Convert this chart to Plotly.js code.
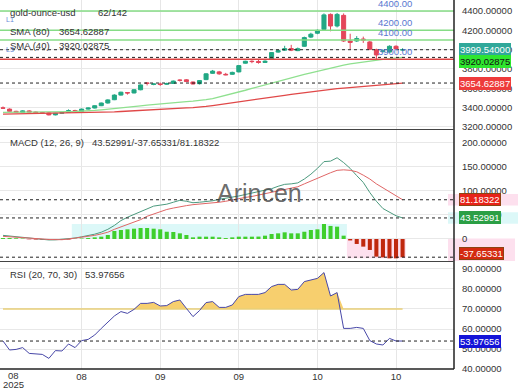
<!DOCTYPE html>
<html><head><meta charset="utf-8">
<script src="https://cdn.plot.ly/plotly-3.0.1.min.js"></script>
<style>html,body{margin:0;padding:0;background:#fff}#chart{width:520px;height:390px}</style>
</head><body><div id="chart"></div>
<script>
// ---- data (trading-day index 0..61, 62 of 142 bars shown) ----
const symbol = "gold-ounce-usd";
const barsInfo = "62/142";
const open  = [3397,3385,3362,3352,3366,3355,3348,3345,3325,3342,3350,3370,3362,3385,3396,3420,3448,3482,3530,3556,3552,3585,3655,3640,3645,3642,3650,3685,3688,3665,3648,3690,3755,3770,3745,3745,3770,3860,3880,3878,3868,3905,3975,3995,4012,3990,4035,4130,4170,4210,4365,4245,4355,4090,4090,4110,4080,4000,3980,3975,4035,3996];
const high  = [3412,3392,3368,3372,3374,3360,3356,3350,3346,3356,3382,3378,3390,3402,3424,3452,3486,3538,3565,3560,3592,3640,3660,3650,3660,3658,3680,3692,3695,3670,3684,3755,3790,3780,3760,3772,3840,3885,3890,3895,3890,3975,3998,4040,4050,4022,4135,4175,4210,4375,4375,4380,4375,4165,4140,4135,4090,4010,4000,4045,4045,4015];
const low   = [3392,3358,3348,3348,3350,3342,3338,3320,3320,3336,3346,3355,3358,3380,3392,3416,3442,3478,3525,3535,3548,3580,3630,3632,3625,3635,3645,3670,3665,3640,3640,3685,3750,3740,3735,3740,3765,3855,3860,3855,3862,3900,3968,3990,3985,3985,4030,4120,4160,4200,4190,4230,4080,4005,4080,4070,3995,3900,3970,3970,4000,3985];
const close = [3395,3362,3352,3366,3355,3348,3345,3325,3342,3350,3370,3362,3385,3396,3420,3448,3480,3530,3560,3552,3585,3635,3652,3645,3640,3650,3675,3683,3670,3645,3680,3750,3778,3750,3740,3765,3835,3880,3877,3868,3880,3970,3990,4010,3995,4010,4125,4160,4200,4360,4245,4365,4090,4075,4115,4100,4005,3945,3988,4035,4008,3999.54];
const sma40 = [3352,3352,3353,3353,3354,3354,3355,3355,3356,3357,3358,3360,3362,3366,3371,3377,3383,3390,3397,3404,3411,3419,3427,3434,3441,3447,3453,3458,3463,3467,3472,3482,3494,3510,3526,3543,3561,3580,3599,3618,3637,3656,3675,3693,3710,3727,3744,3761,3778,3795,3812,3827,3840,3852,3863,3873,3882,3892,3900,3907,3914,3920.02875];
const sma80 = [3333,3334,3335,3336,3337,3338,3339,3340,3341,3342,3343,3344,3346,3348,3350,3352,3354,3357,3360,3363,3366,3370,3374,3378,3382,3386,3390,3394,3397,3401,3405,3413,3422,3431,3440,3449,3458,3467,3477,3487,3497,3507,3517,3528,3538,3547,3556,3565,3573,3582,3590,3596,3602,3607,3612,3617,3622,3628,3634,3641,3648,3654.62887];
const macd   = [7.5,6,4.5,3.5,2.5,1,-0.5,-2,-1.8,-1,0.5,2,4.5,7,10,14,20,28,38,45,51,57,62,68,70,72,76,80,78,75,76,77,79,82,84,87,89,92,95,98,101,104,109,113,114,116,124,134,146,160,161,168,158,146,131,117,96,78,63,55,48,43.52991];
const signal = [5.5,4.8,3.8,2.8,1.8,1,0,-1,-2,-1.5,0,1.5,3,5,7.5,10.5,14,20,25,30,35,40,47,52,57,61,64,67,69,71,72,73,74.5,76,78,81,83,86,88,91,93,96,99,102,105,108,114,120,125,131,137,142,143,142,139,132,124,114,106,97,89,81.18322];
const hist   = [2,2,1.5,1,-0.5,-1,-1.5,-2,-2,-1.5,-1,0.5,1,2,3.4,4.8,8.3,16.5,18.6,20,21.3,22.7,22.7,21.3,20,15,14.5,11.7,8.3,3.4,4.8,4.8,4.8,3.4,2,3.4,4.8,4.8,4.8,5,6.9,10.3,11.7,13.8,11.7,11.7,15,18.6,20,31,27,25.5,6.9,-3,-10.3,-15.8,-22.7,-36.5,-38,-40,-40,-37.65331];
const rsi    = [54,49.5,49.8,50.7,47.8,47.6,47.3,45.3,49.2,49,52.5,50.7,54.2,54.8,57,60.3,63.2,66.5,68.7,67.8,69.8,72.8,72.8,73.3,71.5,71.7,73.7,74.5,70.3,66.2,69.2,73.2,73.7,70.8,70.8,72,76.2,77.3,77.3,77.3,78.2,81.2,82.3,82.3,79.5,79.8,83.7,84.5,85.3,88.2,76.5,78.2,60.3,60.3,60.8,60.3,54.2,52.5,52,55.3,54,53.97656];
const rsiLevel = 70;
const priceLevels = [4400, 4200, 4100, 3900];
const levelColors = ["#86dc86", "#86dc86", "#86dc86", "#dd4444"];
const xTickIdx = [1.6, 12, 24, 36, 48, 60];
const xTickText = ["08", "08", "09", "09", "10", "10"];
const yearLabel = "2025";
const priceTicks = [3200, 3400, 3600, 3800, 4000, 4200, 4400];
const macdTicks = [0, 50, 100, 150, 200];
const macdTickText = ["0", "50.00000", "100.00000", "150.00000", "200.00000"];
const rsiTicks = [40, 50, 60, 70, 80, 90];

const idx = close.map((_, i) => i);
const last = a => a[a.length - 1];
const FONT = "Liberation Sans, Arial, sans-serif";
const W = 454, H = 369;
const px2x = p => p / W, px2y = p => 1 - p / H;

const traces = [
  {type: "candlestick", x: idx, open, high, low, close, xaxis: "x", yaxis: "y",
   increasing: {line: {color: "#22a884", width: 1}, fillcolor: "#22a884"},
   decreasing: {line: {color: "#e4465a", width: 1}, fillcolor: "#e4465a"},
   whiskerwidth: 0, hoverinfo: "skip"},
  {type: "scatter", mode: "lines", x: idx, y: sma40, yaxis: "y", line: {color: "#8fe08f", width: 1.3}},
  {type: "scatter", mode: "lines", x: idx, y: sma80, yaxis: "y", line: {color: "#e04848", width: 1.3}},
  {type: "bar", x: idx, y: hist, yaxis: "y2", width: 0.62,
   marker: {color: hist.map(v => v >= 0 ? "#3fcf2c" : "#c0280e")}},
  {type: "scatter", mode: "lines", x: idx, y: macd, yaxis: "y2", line: {color: "#4c9a7e", width: 1}},
  {type: "scatter", mode: "lines", x: idx, y: signal, yaxis: "y2", line: {color: "#e06666", width: 1}},
  {type: "scatter", mode: "lines", x: idx, y: idx.map(() => rsiLevel), yaxis: "y3", line: {color: "#e9cf77", width: 1.5}},
  {type: "scatter", mode: "lines", x: idx, y: rsi.map(v => Math.max(v, rsiLevel)), yaxis: "y3",
   line: {width: 0}, fill: "tonexty", fillcolor: "#f7cf6e"},
  {type: "scatter", mode: "lines", x: idx, y: rsi, yaxis: "y3", line: {color: "#4848a8", width: 1}}
];

const shapes = [];
// histogram sign-run shading
let s = 0;
for (let i = 1; i <= hist.length; i++) {
  if (i === hist.length || (hist[i] >= 0) !== (hist[s] >= 0)) {
    const seg = hist.slice(s, i);
    const pos = hist[s] >= 0;
    const ext = pos ? Math.max(...seg) : Math.min(...seg);
    shapes.push({type: "rect", xref: "x", yref: "y2", x0: s - 0.5, x1: i - 0.5, y0: 0, y1: ext,
      fillcolor: pos ? "#dcf8f8" : "#fde0ee", line: {width: 0}, layer: "below"});
    s = i;
  }
}
// halos beside the MACD value boxes
shapes.push({type: "rect", xref: "paper", yref: "y2", x0: px2x(448), x1: px2x(518), y0: last(signal) - 12, y1: last(signal) + 12, fillcolor: "#fde0ee", line: {width: 0}, layer: "below"});
shapes.push({type: "rect", xref: "paper", yref: "y2", x0: px2x(448), x1: px2x(518), y0: last(macd) - 12, y1: last(macd) + 12, fillcolor: "#dcf8f8", line: {width: 0}, layer: "below"});
shapes.push({type: "rect", xref: "paper", yref: "y2", x0: px2x(448), x1: px2x(515), y0: -45.5, y1: 1, fillcolor: "#fde0ee", line: {width: 0}, layer: "below"});

priceLevels.forEach((lv, k) => shapes.push({type: "line", xref: "paper", yref: "y", x0: 0, x1: 1, y0: lv, y1: lv,
  line: {color: levelColors[k], width: 1.5}}));
const dash = {color: "#222", width: 1, dash: "3px,3px"};
[[last(close), "y"], [last(sma40), "y"], [last(sma80), "y"],
 [last(signal), "y2"], [last(macd), "y2"], [last(hist), "y2"], [last(rsi), "y3"]].forEach(([v, ya]) =>
  shapes.push({type: "line", xref: "paper", yref: ya, x0: 0, x1: 1, y0: v, y1: v, line: dash}));
// panel frame
shapes.push({type: "line", xref: "paper", yref: "paper", x0: 1, x1: 1, y0: 0, y1: 1, line: {color: "#222", width: 1.5}});
shapes.push({type: "line", xref: "paper", yref: "paper", x0: 0, x1: 1, y0: 0, y1: 0, line: {color: "#222", width: 1.5}});
shapes.push({type: "line", xref: "paper", yref: "paper", x0: 0, x1: 1, y0: px2y(129.5), y1: px2y(129.5), line: {color: "#444", width: 1.2}});
shapes.push({type: "line", xref: "paper", yref: "paper", x0: 0, x1: 1, y0: px2y(261.5), y1: px2y(261.5), line: {color: "#444", width: 1.2}});

const tf = {family: FONT, size: 9.5, color: "#333"};
const ann = [];
const txt = (text, x, y, extra) => ann.push(Object.assign({text, xref: "paper", yref: "paper", x: px2x(x), y: px2y(y),
  xanchor: "left", yanchor: "middle", showarrow: false, font: tf}, extra || {}));
txt(symbol, 8, 12.7); txt(barsInfo, 96, 12.7);
txt("SMA (80)", 8, 31); txt(last(sma80).toFixed(5), 57, 31);
txt("SMA (40)", 8, 45.7); txt(last(sma40).toFixed(5), 57, 45.7);
txt("MACD (12, 26, 9)", 8, 142.5); txt(`${last(macd).toFixed(5)}/${last(hist).toFixed(5)}/${last(signal).toFixed(5)}`, 90, 142.5);
txt("RSI (20, 70, 30)", 8, 274); txt(last(rsi).toFixed(5), 83, 274);
txt("L1", 4, 20, {font: {family: FONT, size: 7, color: "#6a8ad8"}});
txt("L3", 4, 50, {font: {family: FONT, size: 7, color: "#6a8ad8"}});
txt("Arincen", 259, 193, {xanchor: "center", font: {family: FONT, size: 25, color: "rgba(70,70,70,0.8)"}});
// price level labels
priceLevels.forEach(lv => ann.push({text: lv.toFixed(2), xref: "paper", yref: "y", x: px2x(414), y: lv,
  xanchor: "right", yanchor: "bottom", yshift: 0, showarrow: false, font: {family: FONT, size: 9.5, color: "#5a78d0"}}));
// first x label with year, on two lines
ann.push({text: xTickText[0], xref: "x", yref: "paper", x: xTickIdx[0], y: px2y(375.5), yanchor: "middle",
  showarrow: false, font: tf});
ann.push({text: yearLabel, xref: "x", yref: "paper", x: xTickIdx[0], y: px2y(384), yanchor: "middle",
  showarrow: false, font: tf});
// value boxes on the right axis
const box = (v, ya, bg, fc, bc, ys) => ann.push({text: v.toFixed(5), xref: "paper", yref: ya, x: 1, y: v, xanchor: "left",
  yanchor: "middle", xshift: 5, yshift: ys || 0, showarrow: false, bgcolor: bg, bordercolor: bc || bg, borderwidth: 1, borderpad: 0,
  font: {family: FONT, size: 9.5, color: fc}});
box(last(close), "y", "#30a89a", "#fff");
box(last(sma40), "y", "#2ee62e", "#111", null, -4);
box(last(sma80), "y", "#ee3b3b", "#fff");
box(last(signal), "y2", "#e8231a", "#fff", "#8b4513");
box(last(macd), "y2", "#2b9f45", "#fff");
box(last(hist), "y2", "#d42a10", "#fff", "#8b4513", 4);
box(last(rsi), "y3", "#1414d8", "#fff");

const yCommon = {side: "right", showgrid: true, gridcolor: "#e8e8e8", zeroline: false, ticks: "", tickfont: tf, ticklabelstandoff: 7, fixedrange: true};
const layout = {
  width: 520, height: 390, margin: {l: 0, r: 66, t: 0, b: 21},
  paper_bgcolor: "#fff", plot_bgcolor: "#fff", showlegend: false,
  font: {family: FONT},
  boxgap: 0.35, boxgroupgap: 0.05,
  xaxis: {anchor: "y3", range: [-0.46, 68.85], tickvals: xTickIdx.slice(1), ticktext: xTickText.slice(1),
    showgrid: true, gridcolor: "#e6e6e6", zeroline: false, ticks: "", tickfont: tf, rangeslider: {visible: false}, showline: false},
  yaxis: Object.assign({}, yCommon, {domain: [0.6504, 1], range: [3179, 4514], tickvals: priceTicks, tickformat: ".5f"}),
  yaxis2: Object.assign({}, yCommon, {domain: [0.2927, 0.6477], range: [-45.5, 225.4], tickvals: macdTicks, ticktext: macdTickText}),
  yaxis3: Object.assign({}, yCommon, {domain: [0, 0.29], range: [40, 93.5], tickvals: rsiTicks, tickformat: ".5f"}),
  shapes, annotations: ann, bargap: 0.3
};
Plotly.newPlot("chart", traces, layout, {staticPlot: true, displayModeBar: false});
</script></body></html>
